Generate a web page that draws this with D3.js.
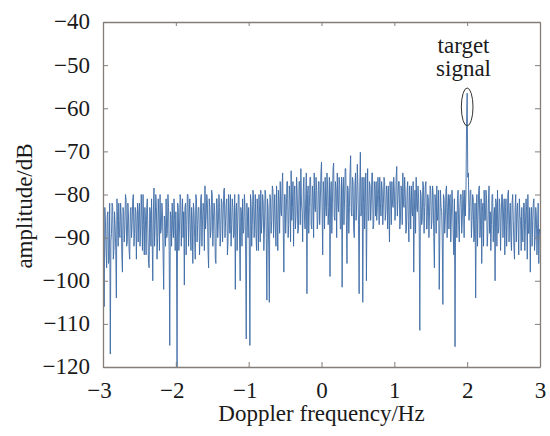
<!DOCTYPE html>
<html>
<head>
<meta charset="utf-8">
<script src="https://cdn.jsdelivr.net/npm/d3@7"></script>
<style>
  html, body { margin: 0; padding: 0; background: #ffffff; }
  svg { display: block; }
  text { font-family: "Liberation Serif", "Times New Roman", serif; fill: #1a1a1a; }
</style>
</head>
<body>
<svg id="chart" width="550" height="436"></svg>
<script>
// ---------------- data ----------------
const freqStart = -3;          // Hz
const freqBinsPerHz = 120;     // FFT bin spacing 1/120 Hz
const xTicks = [-3, -2, -1, 0, 1, 2, 3];
const yTicks = [-120, -110, -100, -90, -80, -70, -60, -50, -40];
const xLabel = "Doppler frequency/Hz";
const yLabel = "amplitude/dB";
const annotationLines = ["target", "signal"];
const annotationCenter = [2.0, -59.7];   // [Hz, dB]
const annotationRadii = [0.08, 4.4];     // [Hz, dB]
const annotationTextX = 1.95;
const annotationTextY = [-47.2, -52.5];

// amplitude (dB), one array per 1 Hz of Doppler frequency
const ampM3toM2 = [
  -88, -94, -106, -83, -86, -93, -97, -85, -84, -96,
  -95, -82, -117, -91, -89, -82, -83, -95, -93, -84,
  -87, -93, -104, -81, -86, -92, -82, -89, -90, -82,
  -85, -94, -98, -83, -84, -91, -88, -80, -81, -92,
  -91, -82, -85, -93, -95, -84, -83, -90, -87, -81,
  -80, -92, -89, -83, -84, -95, -86, -82, -91, -84,
  -82, -92, -88, -80, -85, -93, -80, -87, -94, -83,
  -86, -94, -83, -81, -89, -96, -97, -83, -84, -92,
  -81, -90, -100, -84, -78.5, -92, -87, -80, -83, -95,
  -90, -81, -85, -93, -80, -89, -88, -82, -84, -94,
  -102, -85, -86, -92, -81, -90, -89, -80, -83, -93,
  -115, -84, -85, -92, -82, -88, -90, -81, -86, -93
];
const ampM2toM1 = [
  -84, -91, -120, -82, -83, -93, -88, -80, -81, -92,
  -86, -81, -90, -84, -101, -83, -82, -94, -87, -80,
  -80, -92, -85, -81, -89, -93, -83, -86, -96, -82,
  -84, -90, -95, -80, -81, -91, -87, -83, -83, -94,
  -90, -81, -80, -92, -86, -82, -84, -93, -78, -88,
  -85, -80, -82, -93, -97, -81, -83, -90, -88, -79,
  -80, -92, -86, -82, -84, -95, -96, -81, -81, -90,
  -87, -80, -83, -92, -89, -81, -82, -91, -85, -79,
  -78.5, -90, -86, -82, -81, -94, -91, -80, -84, -89,
  -80, -92, -87, -81, -83, -90, -89, -80, -102, -84,
  -82, -93, -86, -80, -80, -91, -100, -83, -84, -92,
  -81, -89, -88, -80, -83, -94, -113.5, -82, -85, -90
];
const ampM1to0 = [
  -83, -91, -115, -80, -82, -92, -87, -79, -80, -90,
  -85, -80, -89, -93, -81, -84, -93, -80, -84, -91,
  -79, -89, -86, -80, -82, -93, -88, -79, -80, -90,
  -104.5, -81, -83, -92, -105, -80, -81, -89, -86, -78,
  -79, -90, -84, -80, -88, -92, -78, -86, -93, -79,
  -82, -89, -77, -84, -85, -78, -75, -88, -98, -80,
  -80, -89, -84, -77, -77, -90, -87, -78, -81, -91,
  -74.5, -86, -83, -77, -92, -80, -78, -88, -85, -76,
  -80, -89, -88, -77, -77, -87, -74, -82, -84, -91,
  -79, -76, -86, -88, -81, -75, -103, -80, -78, -89,
  -83, -76, -76, -87, -88, -78, -80, -90, -75, -83,
  -84, -76, -79, -88, -86, -77, -77, -87, -82, -75
];
const amp0to1 = [
  -72.5, -84, -94, -77, -80, -88, -76, -83, -85, -75,
  -78, -87, -83, -76, -99, -80, -77, -89, -82, -74,
  -72.7, -85, -86, -77, -79, -90, -75, -82, -84, -76,
  -78, -88, -88, -76, -101.5, -79, -76, -87, -81, -74,
  -74, -86, -96, -78, -79, -89, -83, -75, -71, -84,
  -85, -76, -77, -88, -90, -78, -75, -86, -82, -73,
  -78, -87, -103, -79, -70.2, -85, -84, -76, -105, -82,
  -76, -88, -81, -75, -100, -83, -74, -86, -86, -77,
  -78, -86, -82, -75, -75, -88, -87, -77, -79, -85,
  -77, -86, -83, -76, -80, -87, -76, -82, -85, -77,
  -79, -87, -82, -76, -77, -86, -84, -78, -80, -88,
  -78, -84, -91, -77, -81, -87, -77, -82, -83, -76
];
const amp1to2 = [
  -79, -86, -84, -76, -73.5, -85, -81, -77, -77, -88,
  -86, -78, -79, -87, -75, -82, -83, -76, -80, -89,
  -88, -79, -77, -86, -91, -78, -81, -88, -78, -84,
  -85, -77, -98, -84, -79, -89, -76, -83, -84, -78,
  -81, -88, -111.5, -79, -80, -87, -86, -77, -78, -89,
  -83, -78, -77, -88, -88, -80, -81, -90, -84, -78,
  -79, -88, -86, -78, -80, -90, -97, -80, -82, -89,
  -78, -86, -85, -79, -102, -88, -79, -83, -84, -91,
  -105.5, -80, -81, -89, -86, -79, -78, -90, -83, -80,
  -88, -81, -80, -91, -85, -79, -82, -89, -94, -81,
  -115.3, -84, -84, -90, -81, -79, -87, -91, -83, -80,
  -80, -89, -86, -79, -82, -90, -79, -85, -80, -64
];
const amp2to3 = [
  -56.5, -76, -75, -86, -83, -79, -79, -90, -86, -80,
  -81, -91, -90, -82, -104, -86, -80, -92, -85, -79,
  -78, -90, -87, -81, -96, -84, -82, -92, -79, -86,
  -86, -79, -81, -92, -89, -82, -78, -89, -84, -93,
  -87, -80, -80, -91, -85, -83, -100, -81, -82, -92,
  -79, -89, -88, -81, -83, -93, -86, -80, -80, -90,
  -84, -81, -94, -84, -81, -92, -87, -80, -79, -91,
  -85, -82, -90, -93, -82, -80, -86, -92, -95, -83,
  -80, -91, -84, -82, -88, -94, -81, -85, -86, -93,
  -83, -90, -91, -82, -82, -93, -87, -81, -84, -95,
  -80, -89, -89, -83, -98, -86, -83, -92, -86, -82,
  -81, -93, -90, -83, -85, -94, -88, -82, -96, -88,
  -89
];

const amplitude = [].concat(ampM3toM2, ampM2toM1, ampM1to0, amp0to1, amp1to2, amp2to3);
const frequency = amplitude.map((_, i) => freqStart + i / freqBinsPerHz);

// ---------------- layout ----------------
(function draw() {
  const svg = d3.select("#chart");
  const mLeft = 103, mRight = 540, mTop = 22, mBottom = 367;
  const axisColor = "#857d77";
  const lineColor = "#3d6ba6";

  const x = d3.scaleLinear().domain([-3, 3]).range([mLeft, mRight]);
  const y = d3.scaleLinear().domain([-120, -40]).range([mBottom, mTop]);

  svg.append("clipPath").attr("id", "clip")
    .append("rect").attr("x", mLeft).attr("y", mTop)
    .attr("width", mRight - mLeft).attr("height", mBottom - mTop);

  const pts = frequency.map((f, i) => [f, amplitude[i]]);
  svg.append("path")
    .datum(pts)
    .attr("clip-path", "url(#clip)")
    .attr("fill", "none")
    .attr("stroke", lineColor)
    .attr("stroke-width", 0.9)
    .attr("d", d3.line().x(d => x(d[0])).y(d => y(d[1])));

  const fontSize = 23;
  const fmt = d => d < 0 ? "\u2212" + Math.abs(d) : String(d);

  const gx = svg.append("g").attr("transform", `translate(0,${mBottom})`)
    .call(d3.axisBottom(x).tickValues(xTicks).tickSizeInner(-5).tickSizeOuter(0)
      .tickPadding(0).tickFormat(fmt));
  gx.selectAll("text").attr("y", 31).attr("dy", 0)
    .attr("dx", d => d < 0 ? -4 : 0)
    .style("font-size", fontSize + "px");

  const gy = svg.append("g").attr("transform", `translate(${mLeft},0)`)
    .call(d3.axisLeft(y).tickValues(yTicks).tickSizeInner(-5).tickSizeOuter(0)
      .tickPadding(13).tickFormat(fmt));
  gy.selectAll("text").attr("dy", "0.30em").style("font-size", fontSize + "px");

  const gt = svg.append("g").attr("transform", `translate(0,${mTop})`)
    .call(d3.axisTop(x).tickValues(xTicks).tickSizeInner(-4).tickSizeOuter(0).tickFormat(""));
  const gr = svg.append("g").attr("transform", `translate(${mRight},0)`)
    .call(d3.axisRight(y).tickValues(yTicks).tickSizeInner(-5).tickSizeOuter(0).tickFormat(""));

  [gx, gy, gt, gr].forEach(g => {
    g.select(".domain").attr("stroke", axisColor).attr("stroke-width", 1.3);
    g.selectAll(".tick line").attr("stroke", axisColor).attr("stroke-width", 1);
    g.selectAll("text").attr("fill", "#1a1a1a").style("font-family", '"Liberation Serif", serif');
  });

  svg.append("text")
    .attr("x", (mLeft + mRight) / 2).attr("y", 421)
    .attr("text-anchor", "middle")
    .style("font-size", fontSize + "px")
    .text(xLabel);

  svg.append("text")
    .attr("transform", `translate(32,206) rotate(-90)`)
    .attr("text-anchor", "middle")
    .style("font-size", fontSize + "px")
    .text(yLabel);

  svg.append("ellipse")
    .attr("cx", x(annotationCenter[0])).attr("cy", y(annotationCenter[1]))
    .attr("rx", x(annotationCenter[0] + annotationRadii[0]) - x(annotationCenter[0]))
    .attr("ry", y(annotationCenter[1] - annotationRadii[1]) - y(annotationCenter[1]))
    .attr("fill", "none").attr("stroke", "#333").attr("stroke-width", 1);

  annotationLines.forEach((t, i) => {
    svg.append("text")
      .attr("x", x(annotationTextX)).attr("y", y(annotationTextY[i]))
      .attr("text-anchor", "middle")
      .style("font-size", fontSize + "px")
      .text(t);
  });
})();
</script>
</body>
</html>
